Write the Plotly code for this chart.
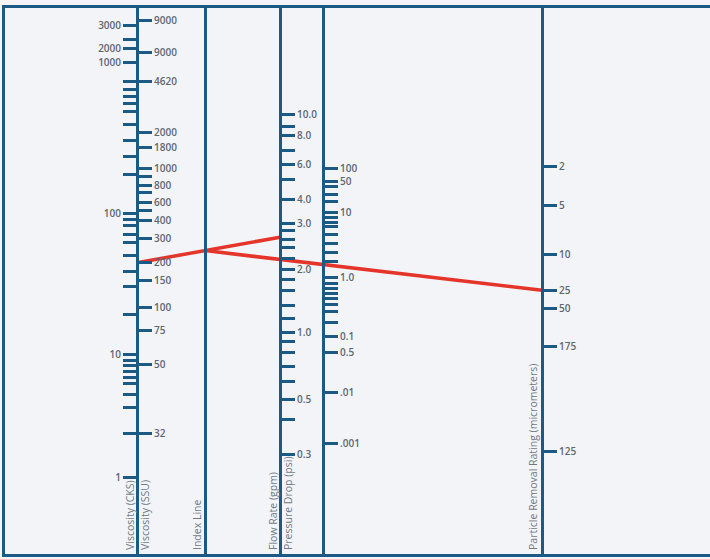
import numpy as np
import plotly.graph_objects as go

# ---------------- data: nomogram scales (label, position along scale) ----------------
cks_labels = ["3000", "", "2000", "1000", "", "", "", "", "", "", "", "", "",
              "100", "", "", "", "", "", "", "", "",
              "10", "", "", "", "", "", "", "", "", "1"]
cks_pos = [25, 39.3, 48.3, 62.3, 81, 89.3, 96.7, 103.3, 111, 124, 140.7, 156.7, 174,
           213, 219.5, 225.5, 234.3, 242.7, 255.7, 271, 286, 314,
           354.3, 360, 365.7, 371.7, 377.3, 383.3, 394.3, 407.7, 433.3, 477.3]

ssu_labels = ["9000", "9000", "4620", "2000", "1800", "1000", "", "800", "", "600", "",
              "400", "300", "200", "150", "100", "75", "50", "32"]
ssu_pos = [20.7, 52.7, 81, 132.3, 147.3, 168, 176.7, 185.7, 192.7, 202, 210,
           220.7, 238.3, 262.7, 280, 307.3, 330, 364, 433.3]

flow_labels = ["10.0", "", "8.0", "", "6.0", "", "4.0", "3.0", "", "", "", "", "2.0",
               "", "", "", "", "1.0", "", "", "", "", "0.5", "", "0.3"]
flow_pos = [114.3, 126, 135.7, 150.3, 164, 179, 199.3, 223.3, 230.7, 239, 247.3, 258.3, 269,
            279.5, 290.5, 305, 318.3, 332.3, 341.7, 352.3, 366.7, 381.7, 399.3, 419.3, 454]

press_labels = ["100", "50", "", "", "", "10", "", "", "", "", "", "", "", "1.0",
                "", "", "", "", "", "", "", "0.1", "0.5", ".01", ".001"]
press_pos = [168.3, 181.3, 186.7, 194, 201, 212.7, 217.7, 222.7, 226.7, 234.3, 243.3, 252, 261.7, 277.3,
             283.3, 288, 293.3, 298.3, 304, 311.7, 322.7, 336.7, 352, 392.7, 443.3]

particle_labels = ["2", "5", "10", "25", "50", "175", "125"]
particle_pos = [166.7, 205.7, 254.3, 290.3, 308, 346.7, 451.7]

# example reading drawn on the nomogram
reading_ssu = 200
reading_flow = 2.65
reading_particle = 25

# ---------------- layout constants ----------------
W, H = 710, 559
TOP, BOT, LEFT = 8, 554, 5
X_VISC, X_INDEX, X_FLOW, X_PRESS, X_PART = 137, 205, 280, 323, 542
BLUE = "#1b5a84"
RED = "#e5352a"
BG = "#f2f4f8"
TXT = "#5d6770"


def scale_pos(labels, positions, value):
    pts = [(float(l), p) for l, p in zip(labels, positions) if l != ""]
    for v, p in pts:
        if abs(v - value) < 1e-9:
            return p
    pts = sorted(pts)
    vs = np.log([v for v, _ in pts])
    ps = [p for _, p in pts]
    return float(np.interp(np.log(value), vs, ps))


y_ssu = scale_pos(ssu_labels, ssu_pos, reading_ssu)
y_flow = scale_pos(flow_labels, flow_pos, reading_flow)
y_part = scale_pos(particle_labels, particle_pos, reading_particle)
y_index = y_ssu + (y_flow - y_ssu) * (X_INDEX - X_VISC) / (X_FLOW - X_VISC)

fig = go.Figure()
fig.add_trace(go.Scatter(x=[X_VISC, X_FLOW], y=[y_ssu, y_flow], mode="lines",
                         line=dict(color=RED, width=3.5), hoverinfo="skip"))
fig.add_trace(go.Scatter(x=[X_INDEX, X_PART], y=[y_index, y_part], mode="lines",
                         line=dict(color=RED, width=3.5), hoverinfo="skip"))

dom = [(H - BOT) / H, (H - TOP) / H]
yr = [BOT, TOP]
tickfont = dict(family="Open Sans", size=10, color=TXT, weight=600)


def scale_axis(xpx, side, vals, texts, ticks=True):
    d = dict(overlaying="y", anchor="free", position=xpx / W, side=side,
             range=yr, showgrid=False, zeroline=False,
             showline=True, linecolor=BLUE, linewidth=3,
             tickfont=tickfont)
    if ticks:
        d.update(tickmode="array", tickvals=vals, ticktext=texts,
                 ticks="outside", ticklen=13, tickwidth=3, tickcolor=BLUE)
    else:
        d.update(showticklabels=False, ticks="")
    return d


fig.update_layout(
    width=W, height=H, margin=dict(l=0, r=0, t=0, b=0),
    paper_bgcolor=BG, plot_bgcolor=BG, showlegend=False,
    xaxis=dict(domain=[LEFT / W, 1], range=[LEFT, W], showgrid=False, zeroline=False,
               showline=True, mirror=True, linecolor=BLUE, linewidth=3,
               showticklabels=False, ticks=""),
    yaxis=dict(domain=dom, range=yr, showgrid=False, zeroline=False,
               showline=True, linecolor=BLUE, linewidth=3,
               showticklabels=False, ticks=""),
    yaxis2=scale_axis(X_VISC, "left", cks_pos, cks_labels),
    yaxis3=scale_axis(X_VISC, "right", ssu_pos, ssu_labels),
    yaxis4=scale_axis(X_INDEX, "right", [], [], ticks=False),
    yaxis5=scale_axis(X_FLOW, "right", flow_pos, flow_labels),
    yaxis6=scale_axis(X_PRESS, "right", press_pos, press_labels),
    yaxis7=scale_axis(X_PART, "right", particle_pos, particle_labels),
)

# dummy traces so every overlaying axis is drawn
for i in range(2, 8):
    fig.add_trace(go.Scatter(x=[None], y=[None], yaxis=f"y{i}", showlegend=False))

titles = [("Viscosity (CKS)", X_VISC - 7), ("Viscosity (SSU)", X_VISC + 8),
          ("Index Line", X_INDEX - 8), ("Flow Rate (gpm)", X_FLOW - 7),
          ("Pressure Drop (psi)", X_FLOW + 8),
          ("Particle Removal Rating (micrometers)", X_PART - 9)]
for text, xc in titles:
    fig.add_annotation(x=xc, y=BOT - 2, xref="x", yref="y", text=text, textangle=-90,
                       showarrow=False, xanchor="center", yanchor="bottom",
                       font=dict(family="Open Sans", size=10.5, color="#717a82"))

fig.write_html("out.html", config={"displayModeBar": False},
               post_script="document.body.style.margin='0';document.body.style.overflow='hidden';")
